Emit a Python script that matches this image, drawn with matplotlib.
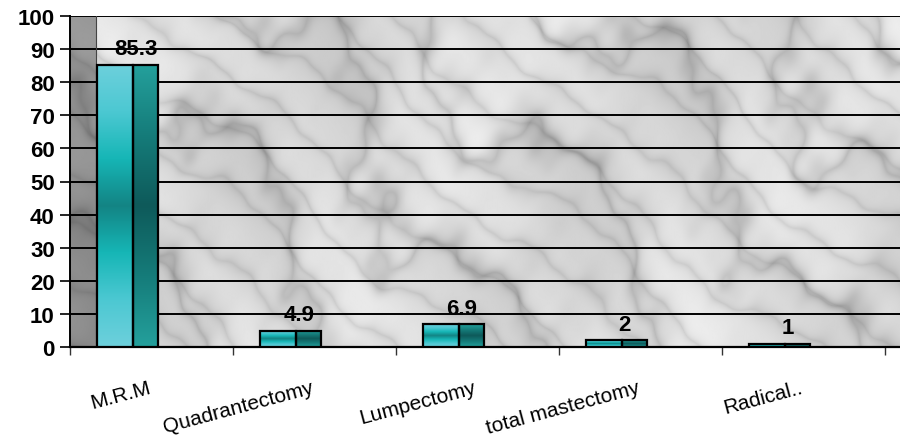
import numpy as np
import matplotlib.pyplot as plt
from matplotlib.patches import Rectangle
from matplotlib.colors import LinearSegmentedColormap

plt.rcParams["font.family"] = ["Liberation Sans", "DejaVu Sans"]

categories = ["M.R.M", "Quadrantectomy", "Lumpectomy", "total mastectomy", "Radical.."]
values = [85.3, 4.9, 6.9, 2, 1]
value_labels = ["85.3", "4.9", "6.9", "2", "1"]
y_ticks = [0, 10, 20, 30, 40, 50, 60, 70, 80, 90, 100]

# colour ramps for the two visible faces of each column
front_cmap = LinearSegmentedColormap.from_list(
    "front", ["#6dd0dc", "#4cc8d2", "#16b6b6", "#138484", "#16b6b6", "#4cc8d2", "#6dd0dc"]
)
side_cmap = LinearSegmentedColormap.from_list(
    "side", ["#24a09c", "#157c7a", "#0e5a5a", "#157c7a", "#24a09c"]
)

X_MIN = -0.5
X_MAX = -0.5 + 830 / 163
WALL_EDGE = -0.34


def marble(h=330, w=830):
    # soft grey stone look built from layered sine waves, streaks running down-right
    yy, xx = np.mgrid[0:h, 0:w] / 60.0
    turb = np.zeros_like(xx)
    waves = [(1.0, 0.7, 0.3, 1.0), (2.3, -1.1, 1.7, 0.5), (4.1, 2.9, 0.4, 0.3),
             (7.3, -5.2, 2.2, 0.15), (11.9, 8.1, 0.9, 0.08)]
    for fx, fy, ph, amp in waves:
        turb += amp * np.sin(fx * xx + fy * yy + ph)
    veins = np.abs(np.sin(1.1 * (xx - 0.8 * yy) + 0.9 * turb))
    veins2 = np.abs(np.sin(2.3 * (xx - 1.3 * yy) + 0.7 * turb + 1.0))
    tex = 0.88 - 0.16 * np.exp(-veins * 3.0) - 0.10 * np.exp(-veins2 * 3.5)
    tex += 0.035 * turb
    return np.clip(tex, 0, 1)


def draw_column(ax, x_left, height):
    front_w = 0.221
    side_w = 0.153
    grad = np.linspace(0, 1, 256).reshape(-1, 1)
    ax.imshow(grad, cmap=front_cmap, aspect="auto", zorder=3,
              extent=[x_left, x_left + front_w, 0, height], origin="lower")
    ax.imshow(grad, cmap=side_cmap, aspect="auto", zorder=3,
              extent=[x_left + front_w, x_left + front_w + side_w, 0, height], origin="lower")
    ax.add_patch(Rectangle((x_left, 0), front_w, height, fill=False,
                           edgecolor="black", linewidth=1.6, zorder=4))
    ax.add_patch(Rectangle((x_left + front_w, 0), side_w, height, fill=False,
                           edgecolor="black", linewidth=1.6, zorder=4))
    return x_left + (front_w + side_w) / 2


fig = plt.figure(figsize=(9, 4.39), dpi=100)
ax = fig.add_axes([70 / 900, 91 / 439, 830 / 900, 331 / 439])

# back wall and left side wall
ax.imshow(marble(), cmap="gray", vmin=0, vmax=1, aspect="auto", zorder=0,
          extent=[WALL_EDGE, X_MAX, 0, 100])
ax.imshow(marble(330, 26) * 0.66, cmap="gray", vmin=0, vmax=1, aspect="auto", zorder=0,
          extent=[X_MIN, WALL_EDGE, 0, 100])

for t in y_ticks[1:]:
    ax.plot([X_MIN, X_MAX], [t, t], color="black", linewidth=1.4, zorder=1)
ax.plot([WALL_EDGE, WALL_EDGE], [0, 100], color="#444444", linewidth=0.8, zorder=1)

for i, (v, lab) in enumerate(zip(values, value_labels)):
    cx = draw_column(ax, i - 0.334, v)
    ax.annotate(lab, (cx + 0.05, v), xytext=(0, 4), textcoords="offset points",
                ha="center", va="bottom", fontsize=16, fontweight="bold", zorder=5)

for i, name in enumerate(categories):
    ax.text(i, -0.135, name, transform=ax.get_xaxis_transform(), rotation=15,
            rotation_mode="anchor", ha="right", va="baseline", fontsize=15)

ax.set_xlim(X_MIN, X_MAX)
ax.set_ylim(0, 100)
ax.set_yticks(y_ticks)
ax.set_yticklabels([str(t) for t in y_ticks], fontsize=16, fontweight="bold")
ax.set_xticks(np.arange(-0.5, 4.6, 1.0))
ax.set_xticklabels([])
ax.tick_params(axis="y", length=7, width=1.2, pad=4)
ax.tick_params(axis="x", length=6, width=1.0, color="#333333")

for side in ["top", "right"]:
    ax.spines[side].set_visible(False)
ax.spines["left"].set_linewidth(1.4)
ax.spines["bottom"].set_linewidth(1.6)

fig.savefig("out.png", dpi=100, facecolor="white")
